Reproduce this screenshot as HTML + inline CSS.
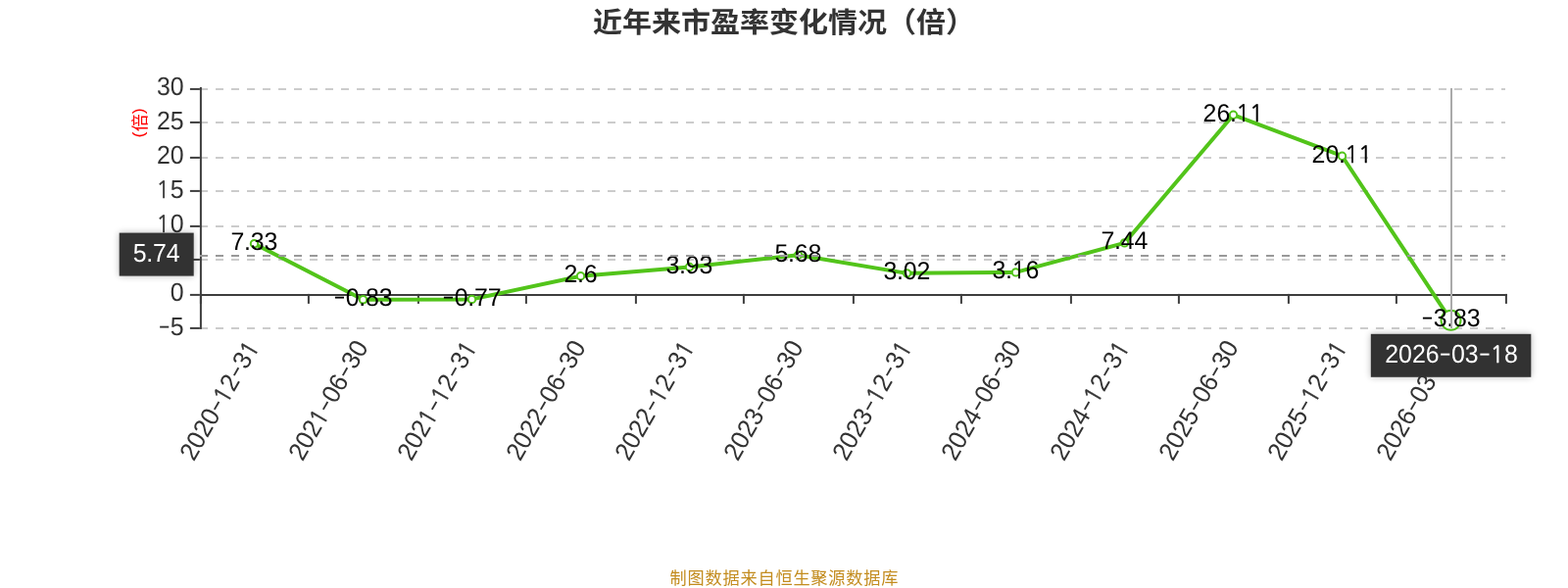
<!DOCTYPE html>
<html lang="zh-CN"><head><meta charset="utf-8"><title>近年来市盈率变化情况（倍）</title>
<style>
html,body{margin:0;padding:0;background:#fff;}
body{width:1600px;height:600px;overflow:hidden;position:relative;}
svg{display:block;position:absolute;left:0;top:0;}
text{font-family:"Liberation Sans", "Noto Sans CJK SC", sans-serif;}
.n{text-rendering:geometricPrecision;}
.o{font-family:"NanumGothic","Liberation Sans",sans-serif;font-size:23.8px;stroke-width:0.4;}
</style></head><body>
<svg width="1600" height="600" viewBox="0 0 1600 600">
<defs><filter id="sh" x="-25%" y="-40%" width="150%" height="180%"><feGaussianBlur in="SourceAlpha" stdDeviation="3.6"/><feComponentTransfer><feFuncA type="linear" slope="0.28"/></feComponentTransfer><feMerge><feMergeNode/><feMergeNode in="SourceGraphic"/></feMerge></filter></defs>
<rect width="1600" height="600" fill="#fff"/>
<text transform="translate(800,22.8) scale(1,0.96)" y="11.1" text-anchor="middle" font-size="30" font-weight="bold" fill="#333">近年来市盈率变化情况（倍）</text>
<g stroke="#ccc" stroke-width="2" stroke-dasharray="8 8" fill="none">
<line x1="204" y1="91" x2="1536" y2="91"/>
<line x1="204" y1="125" x2="1536" y2="125"/>
<line x1="204" y1="161" x2="1536" y2="161"/>
<line x1="204" y1="195" x2="1536" y2="195"/>
<line x1="204" y1="231" x2="1536" y2="231"/>
<line x1="204" y1="265" x2="1536" y2="265"/>
<line x1="204" y1="335" x2="1536" y2="335"/>
</g>
<g transform="translate(-0.1,-0.1)" stroke="#3e3e3e" stroke-width="2" fill="none">
<line x1="205" y1="89" x2="205" y2="336"/>
<line x1="194" y1="91" x2="204" y2="91"/>
<line x1="194" y1="125" x2="204" y2="125"/>
<line x1="194" y1="161" x2="204" y2="161"/>
<line x1="194" y1="195" x2="204" y2="195"/>
<line x1="194" y1="231" x2="204" y2="231"/>
<line x1="194" y1="265" x2="204" y2="265"/>
<line x1="194" y1="301" x2="204" y2="301"/>
<line x1="194" y1="335" x2="204" y2="335"/>
<line x1="204" y1="301" x2="1538" y2="301"/>
<line x1="205" y1="300" x2="205" y2="310"/>
<line x1="315" y1="300" x2="315" y2="310"/>
<line x1="427" y1="300" x2="427" y2="310"/>
<line x1="537" y1="300" x2="537" y2="310"/>
<line x1="649" y1="300" x2="649" y2="310"/>
<line x1="759" y1="300" x2="759" y2="310"/>
<line x1="871" y1="300" x2="871" y2="310"/>
<line x1="981" y1="300" x2="981" y2="310"/>
<line x1="1093" y1="300" x2="1093" y2="310"/>
<line x1="1203" y1="300" x2="1203" y2="310"/>
<line x1="1315" y1="300" x2="1315" y2="310"/>
<line x1="1425" y1="300" x2="1425" y2="310"/>
<line x1="1537" y1="300" x2="1537" y2="310"/>
</g>
<text class="n" transform="translate(188.00,90.00) scale(0.9505,1)" y="7.40" font-size="26.2" fill="#333"><tspan x="-29.46">30</tspan></text>
<text class="n" transform="translate(188.00,125.00) scale(0.9505,1)" y="7.40" font-size="26.2" fill="#333"><tspan x="-29.46">25</tspan></text>
<text class="n" transform="translate(188.00,160.00) scale(0.9505,1)" y="7.40" font-size="26.2" fill="#333"><tspan x="-29.46">20</tspan></text>
<text class="n" transform="translate(188.00,195.00) scale(0.9505,1)" y="7.40" font-size="26.2" fill="#333"><tspan x="-29.89" class="o" stroke="#333">1</tspan><tspan x="-14.89">5</tspan></text>
<text class="n" transform="translate(188.00,230.00) scale(0.9505,1)" y="7.40" font-size="26.2" fill="#333"><tspan x="-29.89" class="o" stroke="#333">1</tspan><tspan x="-14.89">0</tspan></text>
<text class="n" transform="translate(188.00,265.00) scale(0.9505,1)" y="7.40" font-size="26.2" fill="#333"><tspan x="-14.89">5</tspan></text>
<text class="n" transform="translate(188.00,300.00) scale(0.9505,1)" y="7.40" font-size="26.2" fill="#333"><tspan x="-14.89">0</tspan></text>
<text class="n" transform="translate(188.00,335.00) scale(0.9505,1)" y="7.40" font-size="26.2" fill="#333"><tspan x="-27.93" dy="-2.1" font-size="24" stroke="none" textLength="13.05" lengthAdjust="spacingAndGlyphs">-</tspan><tspan x="-14.89" dy="2.1">5</tspan></text>
<text transform="translate(142,125.4) rotate(-90) scale(1,0.95)" font-size="18" fill="#f00"><tspan x="-15.2" y="4.87">(</tspan><tspan x="-8.87" y="6.9">倍</tspan><tspan x="9.1" y="4.87">)</tspan></text>
<text class="n" transform="translate(259.40,350.60) rotate(-60) scale(0.9505,1)" y="7.00" font-size="26.2" fill="#333"><tspan x="-142.66">2020</tspan><tspan x="-84.38" dy="-2.1" font-size="24" stroke="none" textLength="13.05" lengthAdjust="spacingAndGlyphs">-</tspan><tspan x="-71.76" dy="2.1" class="o" stroke="#333">1</tspan><tspan x="-56.76">2</tspan><tspan x="-42.19" dy="-2.1" font-size="24" stroke="none" textLength="13.05" lengthAdjust="spacingAndGlyphs">-</tspan><tspan x="-29.14" dy="2.1">3</tspan><tspan x="-15.00" class="o" stroke="#333">1</tspan></text>
<text class="n" transform="translate(370.40,350.60) rotate(-60) scale(0.9505,1)" y="7.00" font-size="26.2" fill="#333"><tspan x="-142.66">202</tspan><tspan x="-99.38" class="o" stroke="#333">1</tspan><tspan x="-84.38" dy="-2.1" font-size="24" stroke="none" textLength="13.05" lengthAdjust="spacingAndGlyphs">-</tspan><tspan x="-71.33" dy="2.1">06</tspan><tspan x="-42.19" dy="-2.1" font-size="24" stroke="none" textLength="13.05" lengthAdjust="spacingAndGlyphs">-</tspan><tspan x="-29.14" dy="2.1">30</tspan></text>
<text class="n" transform="translate(481.40,350.60) rotate(-60) scale(0.9505,1)" y="7.00" font-size="26.2" fill="#333"><tspan x="-142.66">202</tspan><tspan x="-99.38" class="o" stroke="#333">1</tspan><tspan x="-84.38" dy="-2.1" font-size="24" stroke="none" textLength="13.05" lengthAdjust="spacingAndGlyphs">-</tspan><tspan x="-71.76" dy="2.1" class="o" stroke="#333">1</tspan><tspan x="-56.76">2</tspan><tspan x="-42.19" dy="-2.1" font-size="24" stroke="none" textLength="13.05" lengthAdjust="spacingAndGlyphs">-</tspan><tspan x="-29.14" dy="2.1">3</tspan><tspan x="-15.00" class="o" stroke="#333">1</tspan></text>
<text class="n" transform="translate(592.40,350.60) rotate(-60) scale(0.9505,1)" y="7.00" font-size="26.2" fill="#333"><tspan x="-142.66">2022</tspan><tspan x="-84.38" dy="-2.1" font-size="24" stroke="none" textLength="13.05" lengthAdjust="spacingAndGlyphs">-</tspan><tspan x="-71.33" dy="2.1">06</tspan><tspan x="-42.19" dy="-2.1" font-size="24" stroke="none" textLength="13.05" lengthAdjust="spacingAndGlyphs">-</tspan><tspan x="-29.14" dy="2.1">30</tspan></text>
<text class="n" transform="translate(703.40,350.60) rotate(-60) scale(0.9505,1)" y="7.00" font-size="26.2" fill="#333"><tspan x="-142.66">2022</tspan><tspan x="-84.38" dy="-2.1" font-size="24" stroke="none" textLength="13.05" lengthAdjust="spacingAndGlyphs">-</tspan><tspan x="-71.76" dy="2.1" class="o" stroke="#333">1</tspan><tspan x="-56.76">2</tspan><tspan x="-42.19" dy="-2.1" font-size="24" stroke="none" textLength="13.05" lengthAdjust="spacingAndGlyphs">-</tspan><tspan x="-29.14" dy="2.1">3</tspan><tspan x="-15.00" class="o" stroke="#333">1</tspan></text>
<text class="n" transform="translate(814.40,350.60) rotate(-60) scale(0.9505,1)" y="7.00" font-size="26.2" fill="#333"><tspan x="-142.66">2023</tspan><tspan x="-84.38" dy="-2.1" font-size="24" stroke="none" textLength="13.05" lengthAdjust="spacingAndGlyphs">-</tspan><tspan x="-71.33" dy="2.1">06</tspan><tspan x="-42.19" dy="-2.1" font-size="24" stroke="none" textLength="13.05" lengthAdjust="spacingAndGlyphs">-</tspan><tspan x="-29.14" dy="2.1">30</tspan></text>
<text class="n" transform="translate(925.40,350.60) rotate(-60) scale(0.9505,1)" y="7.00" font-size="26.2" fill="#333"><tspan x="-142.66">2023</tspan><tspan x="-84.38" dy="-2.1" font-size="24" stroke="none" textLength="13.05" lengthAdjust="spacingAndGlyphs">-</tspan><tspan x="-71.76" dy="2.1" class="o" stroke="#333">1</tspan><tspan x="-56.76">2</tspan><tspan x="-42.19" dy="-2.1" font-size="24" stroke="none" textLength="13.05" lengthAdjust="spacingAndGlyphs">-</tspan><tspan x="-29.14" dy="2.1">3</tspan><tspan x="-15.00" class="o" stroke="#333">1</tspan></text>
<text class="n" transform="translate(1036.40,350.60) rotate(-60) scale(0.9505,1)" y="7.00" font-size="26.2" fill="#333"><tspan x="-142.66">2024</tspan><tspan x="-84.38" dy="-2.1" font-size="24" stroke="none" textLength="13.05" lengthAdjust="spacingAndGlyphs">-</tspan><tspan x="-71.33" dy="2.1">06</tspan><tspan x="-42.19" dy="-2.1" font-size="24" stroke="none" textLength="13.05" lengthAdjust="spacingAndGlyphs">-</tspan><tspan x="-29.14" dy="2.1">30</tspan></text>
<text class="n" transform="translate(1147.40,350.60) rotate(-60) scale(0.9505,1)" y="7.00" font-size="26.2" fill="#333"><tspan x="-142.66">2024</tspan><tspan x="-84.38" dy="-2.1" font-size="24" stroke="none" textLength="13.05" lengthAdjust="spacingAndGlyphs">-</tspan><tspan x="-71.76" dy="2.1" class="o" stroke="#333">1</tspan><tspan x="-56.76">2</tspan><tspan x="-42.19" dy="-2.1" font-size="24" stroke="none" textLength="13.05" lengthAdjust="spacingAndGlyphs">-</tspan><tspan x="-29.14" dy="2.1">3</tspan><tspan x="-15.00" class="o" stroke="#333">1</tspan></text>
<text class="n" transform="translate(1258.40,350.60) rotate(-60) scale(0.9505,1)" y="7.00" font-size="26.2" fill="#333"><tspan x="-142.66">2025</tspan><tspan x="-84.38" dy="-2.1" font-size="24" stroke="none" textLength="13.05" lengthAdjust="spacingAndGlyphs">-</tspan><tspan x="-71.33" dy="2.1">06</tspan><tspan x="-42.19" dy="-2.1" font-size="24" stroke="none" textLength="13.05" lengthAdjust="spacingAndGlyphs">-</tspan><tspan x="-29.14" dy="2.1">30</tspan></text>
<text class="n" transform="translate(1369.40,350.60) rotate(-60) scale(0.9505,1)" y="7.00" font-size="26.2" fill="#333"><tspan x="-142.66">2025</tspan><tspan x="-84.38" dy="-2.1" font-size="24" stroke="none" textLength="13.05" lengthAdjust="spacingAndGlyphs">-</tspan><tspan x="-71.76" dy="2.1" class="o" stroke="#333">1</tspan><tspan x="-56.76">2</tspan><tspan x="-42.19" dy="-2.1" font-size="24" stroke="none" textLength="13.05" lengthAdjust="spacingAndGlyphs">-</tspan><tspan x="-29.14" dy="2.1">3</tspan><tspan x="-15.00" class="o" stroke="#333">1</tspan></text>
<text class="n" transform="translate(1480.40,350.60) rotate(-60) scale(0.9505,1)" y="7.00" font-size="26.2" fill="#333"><tspan x="-142.66">2026</tspan><tspan x="-84.38" dy="-2.1" font-size="24" stroke="none" textLength="13.05" lengthAdjust="spacingAndGlyphs">-</tspan><tspan x="-71.33" dy="2.1">03</tspan><tspan x="-42.19" dy="-2.1" font-size="24" stroke="none" textLength="13.05" lengthAdjust="spacingAndGlyphs">-</tspan><tspan x="-29.58" dy="2.1" class="o" stroke="#333">1</tspan><tspan x="-14.57">8</tspan></text>
<polyline points="259.50,248.69 370.50,305.81 481.50,305.39 592.50,281.80 703.50,272.49 814.50,260.24 925.50,278.86 1036.50,277.88 1147.50,247.92 1258.50,117.23 1369.50,159.23 1480.50,326.81" fill="none" stroke="#52c41a" stroke-width="4" stroke-linejoin="bevel"/>
<circle cx="259.50" cy="248.69" r="3.7" fill="#fff" stroke="#52c41a" stroke-width="2"/>
<circle cx="370.50" cy="305.81" r="3.7" fill="#fff" stroke="#52c41a" stroke-width="2"/>
<circle cx="481.50" cy="305.39" r="3.7" fill="#fff" stroke="#52c41a" stroke-width="2"/>
<circle cx="592.50" cy="281.80" r="3.7" fill="#fff" stroke="#52c41a" stroke-width="2"/>
<circle cx="703.50" cy="272.49" r="3.7" fill="#fff" stroke="#52c41a" stroke-width="2"/>
<circle cx="814.50" cy="260.24" r="3.7" fill="#fff" stroke="#52c41a" stroke-width="2"/>
<circle cx="925.50" cy="278.86" r="3.7" fill="#fff" stroke="#52c41a" stroke-width="2"/>
<circle cx="1036.50" cy="277.88" r="3.7" fill="#fff" stroke="#52c41a" stroke-width="2"/>
<circle cx="1147.50" cy="247.92" r="3.7" fill="#fff" stroke="#52c41a" stroke-width="2"/>
<circle cx="1258.50" cy="117.23" r="3.7" fill="#fff" stroke="#52c41a" stroke-width="2"/>
<circle cx="1369.50" cy="159.23" r="3.7" fill="#fff" stroke="#52c41a" stroke-width="2"/>
<circle cx="1480.50" cy="326.81" r="10" fill="#fff" stroke="#52c41a" stroke-width="2"/>
<text class="n" transform="translate(259.50,248.69) scale(0.9728,1)" y="6.50" font-size="25.6" fill="#000"><tspan x="-24.65 -10.68 -3.83 10.41">7.33</tspan></text>
<text class="n" transform="translate(370.50,305.81) scale(0.9728,1)" y="6.50" font-size="25.6" fill="#000"><tspan x="-31.02" dy="-2.1" font-size="24" stroke="none" textLength="12.75" lengthAdjust="spacingAndGlyphs">-</tspan><tspan x="-18.27 -4.30 2.54 16.78" dy="2.1">0.83</tspan></text>
<text class="n" transform="translate(481.50,305.39) scale(0.9728,1)" y="6.50" font-size="25.6" fill="#000"><tspan x="-31.02" dy="-2.1" font-size="24" stroke="none" textLength="12.75" lengthAdjust="spacingAndGlyphs">-</tspan><tspan x="-18.27 -4.30 2.54 16.78" dy="2.1">0.77</tspan></text>
<text class="n" transform="translate(592.50,281.80) scale(0.9728,1)" y="6.50" font-size="25.6" fill="#000"><tspan x="-17.53 -3.56 3.29">2.6</tspan></text>
<text class="n" transform="translate(703.50,272.49) scale(0.9728,1)" y="6.50" font-size="25.6" fill="#000"><tspan x="-24.65 -10.68 -3.83 10.41">3.93</tspan></text>
<text class="n" transform="translate(814.50,260.24) scale(0.9728,1)" y="6.50" font-size="25.6" fill="#000"><tspan x="-24.65 -10.68 -3.83 10.41">5.68</tspan></text>
<text class="n" transform="translate(925.50,278.86) scale(0.9728,1)" y="6.50" font-size="25.6" fill="#000"><tspan x="-24.65 -10.68 -3.83 10.41">3.02</tspan></text>
<text class="n" transform="translate(1036.50,277.88) scale(0.9728,1)" y="6.50" font-size="25.6" fill="#000"><tspan x="-24.65 -10.68">3.</tspan><tspan x="-4.33" class="o" stroke="#000">1</tspan><tspan x="10.41">6</tspan></text>
<text class="n" transform="translate(1147.50,247.92) scale(0.9728,1)" y="6.50" font-size="25.6" fill="#000"><tspan x="-24.65 -10.68 -3.83 10.41">7.44</tspan></text>
<text class="n" transform="translate(1258.50,117.23) scale(0.9728,1)" y="6.50" font-size="25.6" fill="#000"><tspan x="-31.76 -17.53 -3.56">26.</tspan><tspan x="2.79" class="o" stroke="#000">1</tspan><tspan x="17.03" class="o" stroke="#000">1</tspan></text>
<text class="n" transform="translate(1369.50,159.23) scale(0.9728,1)" y="6.50" font-size="25.6" fill="#000"><tspan x="-31.76 -17.53 -3.56">20.</tspan><tspan x="2.79" class="o" stroke="#000">1</tspan><tspan x="17.03" class="o" stroke="#000">1</tspan></text>
<text class="n" transform="translate(1480.50,326.81) scale(0.9728,1)" y="6.50" font-size="25.6" fill="#000"><tspan x="-31.02" dy="-2.1" font-size="24" stroke="none" textLength="12.75" lengthAdjust="spacingAndGlyphs">-</tspan><tspan x="-18.27 -4.30 2.54 16.78" dy="2.1">3.83</tspan></text>
<line x1="1481" y1="90" x2="1481" y2="335" stroke="#aaa" stroke-width="2"/>
<line x1="204" y1="261" x2="1536" y2="261" stroke="#999" stroke-width="2" stroke-dasharray="8 8"/>
<rect x="121.7" y="237.6" width="76" height="44" fill="#333" filter="url(#sh)"/>
<text class="n" transform="translate(159.60,259.60) scale(0.9505,1)" y="7.00" font-size="26.2" fill="#fff"><tspan x="-25.22 -10.93 -3.92 10.65">5.74</tspan></text>
<rect x="1398.8" y="340.8" width="163.5" height="44" fill="#333" filter="url(#sh)"/>
<text class="n" transform="translate(1481.00,363.00) scale(0.9505,1)" y="7.00" font-size="26.2" fill="#fff"><tspan x="-71.33">2026</tspan><tspan x="-13.05" dy="-2.1" font-size="24" stroke="none" textLength="13.05" lengthAdjust="spacingAndGlyphs">-</tspan><tspan x="0.00" dy="2.1">03</tspan><tspan x="29.14" dy="-2.1" font-size="24" stroke="none" textLength="13.05" lengthAdjust="spacingAndGlyphs">-</tspan><tspan x="41.75" dy="2.1" class="o" stroke="#fff">1</tspan><tspan x="56.76">8</tspan></text>
<text x="800.4" y="596.1" text-anchor="middle" font-size="17.2" letter-spacing="0.8" fill="#c38c1f">制图数据来自恒生聚源数据库</text>
</svg>
</body></html>
